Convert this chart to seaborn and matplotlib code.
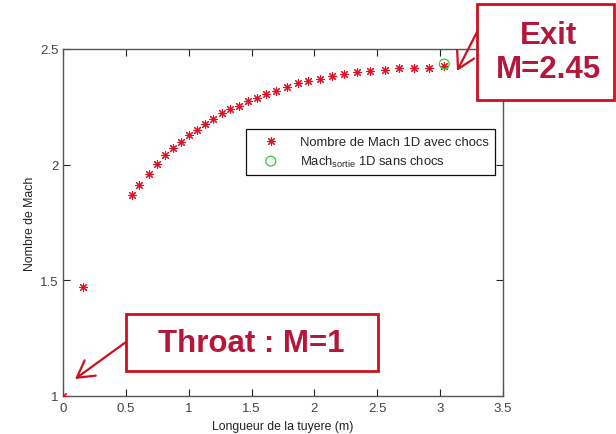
import matplotlib
matplotlib.use("Agg")
import matplotlib.pyplot as plt
import seaborn as sns
import pandas as pd
from matplotlib.ticker import FuncFormatter
from matplotlib.patches import Rectangle

# ---- data ----
x_shock = [0.0, 0.157, 0.546, 0.607, 0.682, 0.750, 0.814, 0.878, 0.941, 1.005,
           1.066, 1.130, 1.196, 1.265, 1.331, 1.403, 1.469, 1.541, 1.612, 1.697,
           1.780, 1.867, 1.951, 2.045, 2.140, 2.235, 2.341, 2.442, 2.559, 2.670,
           2.792, 2.914, 3.033]
mach_shock = [1.0, 1.47, 1.867, 1.913, 1.961, 2.001, 2.040, 2.072, 2.098, 2.127,
              2.152, 2.176, 2.199, 2.222, 2.239, 2.254, 2.274, 2.290, 2.307, 2.320,
              2.336, 2.351, 2.361, 2.372, 2.382, 2.392, 2.400, 2.407, 2.411, 2.416,
              2.420, 2.420, 2.427]
x_exit = [3.033]
mach_exit = [2.435]

label_shock = "Nombre de Mach 1D avec chocs"
label_exit = r"Mach$_\mathregular{sortie}$ 1D sans chocs"
xlabel = "Longueur de la tuyere (m)"
ylabel = "Nombre de Mach"
x_ticks = [0, 0.5, 1, 1.5, 2, 2.5, 3, 3.5]
y_ticks = [1, 1.5, 2, 2.5]
exit_text = "Exit\nM=2.45"
throat_text = "Throat : M=1"

df_shock = pd.DataFrame({"x": x_shock, "M": mach_shock})
df_exit = pd.DataFrame({"x": x_exit, "M": mach_exit})

# ---- style ----
sns.set_style("ticks")
plt.rcParams["font.family"] = ["Liberation Sans", "DejaVu Sans"]
plt.rcParams["mathtext.fontset"] = "custom"
plt.rcParams["mathtext.rm"] = "Liberation Sans"

W, H = 616, 435
fig = plt.figure(figsize=(W / 100, H / 100), dpi=100)
fig.patch.set_facecolor("white")
ax = fig.add_axes([63 / W, 1 - 397 / H, 440 / W, 347 / H])

red = "#e01025"
green = "#33cc33"
sns.scatterplot(data=df_shock, x="x", y="M", ax=ax, marker=(8, 2, 0), s=32,
                color=red, linewidth=0.8, label=label_shock, zorder=3)
sns.scatterplot(data=df_exit, x="x", y="M", ax=ax, marker="o", s=50,
                facecolor="none", edgecolor=green, linewidth=0.9,
                label=label_exit, zorder=4)

ax.set_xlim(0, 3.5)
ax.set_ylim(1, 2.5)
ax.set_xticks(x_ticks)
ax.set_yticks(y_ticks)
fmt = FuncFormatter(lambda v, p: "%g" % v)
ax.xaxis.set_major_formatter(fmt)
ax.yaxis.set_major_formatter(fmt)
spine_col = "#555555"
for s in ax.spines.values():
    s.set_visible(True)
    s.set_color(spine_col)
    s.set_linewidth(1.0)
ax.tick_params(direction="in", length=5, width=0.8, color="#222222",
               labelsize=9.5, labelcolor="#444444", top=True, right=True, pad=3)
ax.tick_params(axis="x", pad=4)
ax.set_xlabel(xlabel, fontsize=8.8, color="#222222", labelpad=5)
ax.set_ylabel(ylabel, fontsize=8.8, color="#222222", labelpad=3)

leg = ax.legend(loc="upper left", bbox_to_anchor=((246 - 63) / 440, (397 - 130) / 347),
                fontsize=9.4, frameon=True, fancybox=False, borderpad=0.5,
                handletextpad=0.8, labelspacing=0.45, borderaxespad=0,
                handlelength=2.8)
leg.get_frame().set_edgecolor("#111111")
leg.get_frame().set_linewidth(0.9)
leg.get_frame().set_alpha(1)

# ---- annotation boxes (figure pixels, y measured from top) ----
box_col = "#cc1020"
txt_col = "#b5173b"

def add_box(x0, y0, x1, y1):
    fig.add_artist(Rectangle((x0 / W, 1 - y1 / H), (x1 - x0) / W, (y1 - y0) / H,
                             transform=fig.transFigure, facecolor="white",
                             edgecolor=box_col, linewidth=2.0, zorder=10,
                             clip_on=False))

def add_arrow(x_from, y_from, x_to, y_to):
    ax.annotate("", xy=(x_to, H - y_to), xytext=(x_from, H - y_from),
                xycoords="figure pixels", textcoords="figure pixels",
                arrowprops=dict(arrowstyle="->,head_length=0.7,head_width=0.4",
                                color=box_col, lw=1.6, mutation_scale=17,
                                shrinkA=0, shrinkB=0),
                zorder=11, annotation_clip=False)

add_box(477, 5, 614, 101)
fig.text(549 / W, 1 - 53 / H, exit_text, ha="center", va="center",
         fontsize=22.5, fontweight="bold", color=txt_col, linespacing=1.15,
         zorder=12)
add_arrow(477, 33, 457, 72)

add_box(126, 315, 378, 372)
fig.text(251 / W, 1 - 344 / H, throat_text, ha="center", va="center",
         fontsize=22.5, fontweight="bold", color=txt_col, zorder=12)
add_arrow(126, 343, 75, 380)

fig.savefig("out.png", dpi=100, facecolor="white")
